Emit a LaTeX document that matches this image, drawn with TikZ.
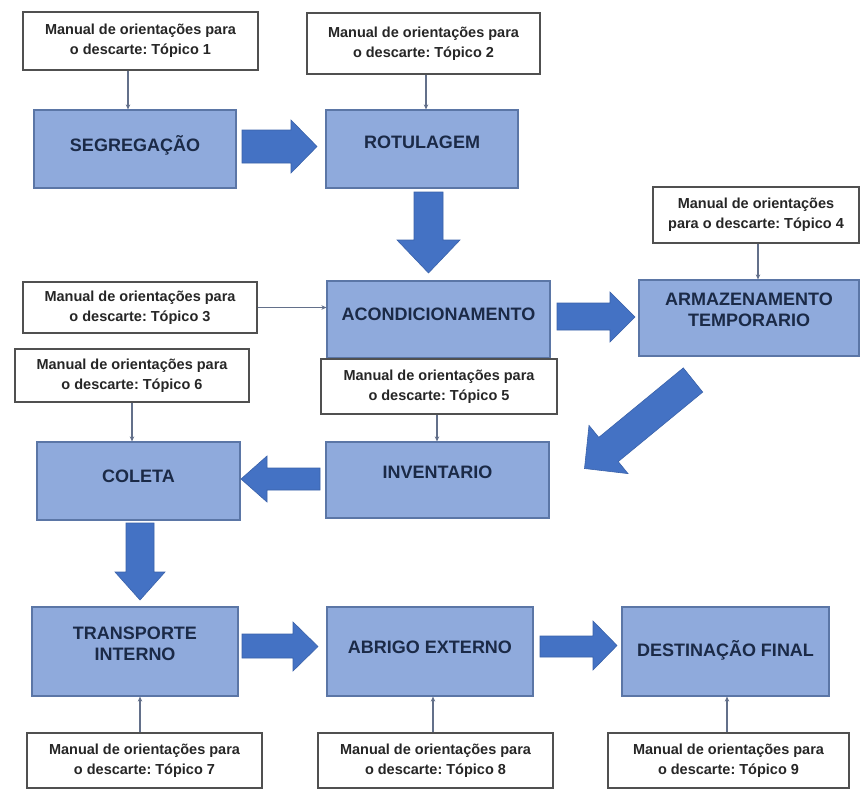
\documentclass[tikz,border=0pt]{standalone}
\usepackage{fontspec}
\setmainfont{Liberation Sans}
\usetikzlibrary{arrows.meta,calc}
\definecolor{boxfill}{HTML}{8FAADC}
\definecolor{boxline}{HTML}{5B76A6}
\definecolor{bigarrow}{HTML}{4472C4}
\definecolor{bigarrowline}{HTML}{3A62AA}
\definecolor{labtext}{HTML}{1B2A47}
\definecolor{conncol}{HTML}{63708A}
\definecolor{noteline}{HTML}{505050}
\newcommand\mybox[7]{\node[#1, minimum width={#5pt-#3pt}, minimum height={#6pt-#4pt}] (#2) at ({(#3+#5)/2},{(#4+#6)/2}) {#7};}
\frenchspacing
\begin{document}
\begin{tikzpicture}[x=1pt,y=-1pt,
  bluebox/.style={draw=boxline, line width=1.2pt, fill=boxfill, inner sep=0pt},
  note/.style={draw=noteline, line width=1.3pt, fill=white, inner sep=0pt, align=center,
    font=\fontsize{14.5}{20}\selectfont\bfseries, text=black!85},
  lab/.style={inner sep=0pt, align=center, font=\fontsize{18}{20.5}\selectfont\bfseries, text=labtext},
  conn/.style={draw=conncol, line width=1.2pt, -{Stealth[length=5pt,width=4.5pt]}},
  bigarr/.style={fill=bigarrow, draw=bigarrowline, line width=0.6pt, line join=miter}]
\fill[white] (0,0) rectangle (861,795);
\useasboundingbox (0,0) rectangle (861,795);

% process boxes
\mybox{bluebox}{seg}{34}{110}{236}{188}{}
\mybox{bluebox}{rot}{326}{110}{518}{188}{}
\mybox{bluebox}{aco}{327}{281}{550}{358}{}
\mybox{bluebox}{arm}{639}{280}{859}{356}{}
\mybox{bluebox}{col}{37}{442}{240}{520}{}
\mybox{bluebox}{inv}{326}{442}{549}{518}{}
\mybox{bluebox}{tra}{32}{607}{238}{696}{}
\mybox{bluebox}{abr}{327}{607}{533}{696}{}
\mybox{bluebox}{des}{622}{607}{829}{696}{}

% labels
\node[lab, anchor=base] (segl) at (135,151) {SEGREGAÇÃO};
\node[lab, anchor=base] (rotl) at (422,148) {ROTULAGEM};
\node[lab, anchor=base] (acol) at (438.5,320) {ACONDICIONAMENTO};
\node[lab, anchor=north] (arml) at (749,293) {ARMAZENAMENTO\\TEMPORARIO};
\node[lab, anchor=base] (coll) at (138.5,482) {COLETA};
\node[lab, anchor=base] (invl) at (437.5,478) {INVENTARIO};
\node[lab, anchor=north] (tral) at (135,627) {TRANSPORTE\\INTERNO};
\node[lab, anchor=base] (abrl) at (430,653) {ABRIGO EXTERNO};
\node[lab, anchor=base] (desl) at (725.5,656) {DESTINAÇÃO FINAL};

% notes
\mybox{note}{n1}{23}{12}{258}{70}{Manual de orientações para\\o descarte: Tópico 1}
\mybox{note}{n2}{307}{13}{540}{74}{Manual de orientações para\\o descarte: Tópico 2}
\mybox{note}{n4}{653}{187}{859}{243}{Manual de orientações\\para o descarte: Tópico 4}
\mybox{note}{n3}{23}{282}{257}{333}{Manual de orientações para\\o descarte: Tópico 3}
\mybox{note}{n6}{15}{349}{249}{402}{Manual de orientações para\\o descarte: Tópico 6}
\mybox{note}{n5}{321}{359}{557}{414}{Manual de orientações para\\o descarte: Tópico 5}
\mybox{note}{n7}{27}{733}{262}{788}{Manual de orientações para\\o descarte: Tópico 7}
\mybox{note}{n8}{318}{733}{553}{788}{Manual de orientações para\\o descarte: Tópico 8}
\mybox{note}{n9}{608}{733}{849}{788}{Manual de orientações para\\o descarte: Tópico 9}

% thin connectors
\coordinate (k1) at (128,0);
\coordinate (k2) at (426,0);
\coordinate (k4) at (758,0);
\coordinate (k6) at (132,0);
\coordinate (k5) at (437,0);
\coordinate (k7) at (140,0);
\coordinate (k8) at (433,0);
\coordinate (k9) at (727,0);
\draw[conn] (n1.south -| k1) -- (seg.north -| k1);
\draw[conn] (n2.south -| k2) -- (rot.north -| k2);
\draw[conn] (n4.south -| k4) -- (arm.north -| k4);
\draw[conn] (n3.east) -- (n3.east -| aco.west);
\draw[conn] (n6.south -| k6) -- (col.north -| k6);
\draw[conn] (n5.south -| k5) -- (inv.north -| k5);
\draw[conn] (n7.north -| k7) -- (tra.south -| k7);
\draw[conn] (n8.north -| k8) -- (abr.south -| k8);
\draw[conn] (n9.north -| k9) -- (des.south -| k9);

% big block arrows
% SEG -> ROT
\filldraw[bigarr] (242,130) -- (291,130) -- (291,120) -- (317,146.5) -- (291,173) -- (291,163) -- (242,163) -- cycle;
% ROT -> ACO
\filldraw[bigarr] (414,192) -- (443,192) -- (443,240) -- (460,240) -- (428.5,273) -- (397,240) -- (414,240) -- cycle;
% ACO -> ARM
\filldraw[bigarr] (557,303) -- (610,303) -- (610,292) -- (635,317) -- (610,342) -- (610,330) -- (557,330) -- cycle;
% ARM -> INV (diagonal)
\filldraw[bigarr] (683.3,367.9) -- (702.7,392.1) -- (618.2,461.6) -- (628,473.6) -- (584.5,468.5) -- (589,425.4) -- (598.8,437.4) -- cycle;
% INV -> COL
\filldraw[bigarr] (320,468) -- (267,468) -- (267,456) -- (241,479) -- (267,502) -- (267,490) -- (320,490) -- cycle;
% COL -> TRA
\filldraw[bigarr] (126,523) -- (154,523) -- (154,572) -- (165,572) -- (140,600) -- (115,572) -- (126,572) -- cycle;
% TRA -> ABR
\filldraw[bigarr] (242,634) -- (293,634) -- (293,622) -- (318,646.5) -- (293,671) -- (293,658) -- (242,658) -- cycle;
% ABR -> DES
\filldraw[bigarr] (540,636) -- (593,636) -- (593,621) -- (617,645.5) -- (593,670) -- (593,657) -- (540,657) -- cycle;
\end{tikzpicture}
\end{document}
